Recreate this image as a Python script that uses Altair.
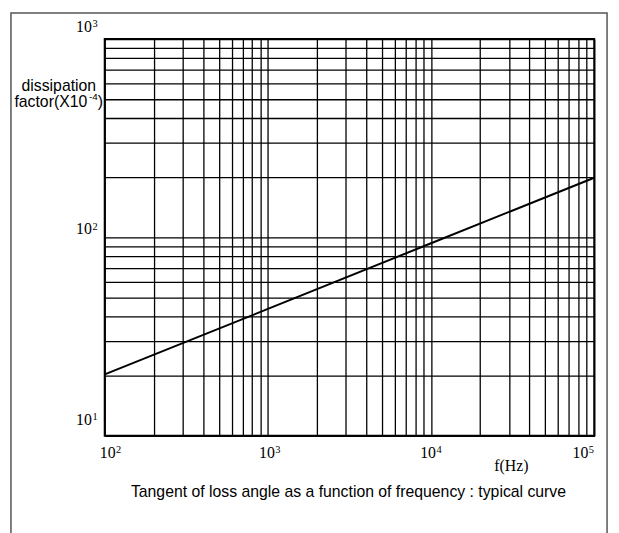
import altair as alt
import pandas as pd

# ---- data ----
freq = [100, 1000, 10000, 100000]            # f (Hz)
dissipation = [20.4, 43.6, 93.5, 200]         # dissipation factor (x10^-4)

x_grid = [100, 200, 300, 400, 500, 600, 700, 800, 900,
          1000, 2000, 3000, 4000, 5000, 6000, 7000, 8000, 9000,
          10000, 20000, 30000, 40000, 50000, 60000, 70000, 80000, 90000,
          100000]
y_grid = [10, 20, 30, 40, 50, 60, 70, 80, 90,
          100, 200, 300, 400, 500, 600, 700, 800, 900, 1000]

x_decades = [100, 1000, 10000, 100000]
x_exponents = ["2", "3", "4", "5"]
y_decades = [10, 100, 1000]
y_exponents = ["1", "2", "3"]

y_title_lines = ["dissipation", "factor(X10", "-4", ")"]
x_title = "f(Hz)"
caption = "Tangent of loss angle as a function of frequency : typical curve"

# ---- styling ----
SERIF = "Liberation Serif"
SANS = "Liberation Sans"
W, H = 496, 402
x_label_dx = [3, -1, -3, -14]
y_label_dy = [-11, -3, -7]

xscale = alt.Scale(type="log", domain=[100, 100000], nice=False)
yscale = alt.Scale(type="log", domain=[10, 1000], nice=False)
common_axis = dict(grid=True, labels=False, ticks=False, domain=False, title=None,
                   gridColor="#000000", gridWidth=1.3, gridOpacity=1)
X = alt.X("f:Q", scale=xscale, axis=alt.Axis(values=x_grid, **common_axis))
Y = alt.Y("d:Q", scale=yscale, axis=alt.Axis(values=y_grid, **common_axis))

line_df = pd.DataFrame({"f": freq, "d": dissipation})
line = alt.Chart(line_df).mark_line(color="#000000", strokeWidth=2).encode(x=X, y=Y)

frame = alt.Chart(pd.DataFrame({"a": [0]})).mark_rect(
    filled=False, stroke="#555555", strokeWidth=1.5
).encode(x=alt.value(-95), x2=alt.value(509), y=alt.value(-26.5), y2=alt.value(620))

layers = [frame, line]

# x tick labels 10^n
for v, e, off in zip(x_decades, x_exponents, x_label_dx):
    df = pd.DataFrame({"f": [v], "base": ["10"], "exp": [e]})
    layers.append(alt.Chart(df).mark_text(
        font=SERIF, fontSize=16, align="center", baseline="alphabetic",
        dx=off, color="#000000"
    ).encode(x=X, y=alt.value(H + 22), text="base:N"))
    layers.append(alt.Chart(df).mark_text(
        font=SERIF, fontSize=10.5, align="left", baseline="alphabetic",
        dx=off + 8.5, color="#000000"
    ).encode(x=X, y=alt.value(H + 17), text="exp:N"))

# y tick labels 10^n
for v, e, off in zip(y_decades, y_exponents, y_label_dy):
    df = pd.DataFrame({"d": [v], "base": ["10"], "exp": [e]})
    layers.append(alt.Chart(df).mark_text(
        font=SERIF, fontSize=16, align="right", baseline="alphabetic",
        dy=off, color="#000000"
    ).encode(y=Y, x=alt.value(-13), text="base:N"))
    layers.append(alt.Chart(df).mark_text(
        font=SERIF, fontSize=10.5, align="left", baseline="alphabetic",
        dy=off - 5, color="#000000"
    ).encode(y=Y, x=alt.value(-12.5), text="exp:N"))

# y title (two lines, with superscript -4)
ann = pd.DataFrame({"a": [0]})
layers.append(alt.Chart(ann).mark_text(font=SANS, fontSize=16, align="center",
                                       baseline="alphabetic", color="#000000")
              .encode(x=alt.value(-46.5), y=alt.value(52.5), text=alt.value(y_title_lines[0])))
layers.append(alt.Chart(ann).mark_text(font=SANS, fontSize=16, align="left",
                                       baseline="alphabetic", color="#000000")
              .encode(x=alt.value(-91.5), y=alt.value(68.5), text=alt.value(y_title_lines[1])))
layers.append(alt.Chart(ann).mark_text(font=SANS, fontSize=10, align="left",
                                       baseline="alphabetic", color="#000000")
              .encode(x=alt.value(-16), y=alt.value(62), text=alt.value(y_title_lines[2])))
layers.append(alt.Chart(ann).mark_text(font=SANS, fontSize=16, align="left",
                                       baseline="alphabetic", color="#000000")
              .encode(x=alt.value(-7), y=alt.value(68.5), text=alt.value(y_title_lines[3])))

# x title
layers.append(alt.Chart(ann).mark_text(font=SERIF, fontSize=16, align="center",
                                       baseline="alphabetic", color="#000000")
              .encode(x=alt.value(412), y=alt.value(438), text=alt.value(x_title)))
# caption
layers.append(alt.Chart(ann).mark_text(font=SANS, fontSize=16, align="center",
                                       baseline="alphabetic", color="#000000")
              .encode(x=alt.value(247), y=alt.value(463.5), text=alt.value(caption)))

chart = alt.layer(*layers).properties(
    width=W, height=H,
    autosize=alt.AutoSizeParams(type="none"),
    padding={"left": 98, "top": 28, "right": 17, "bottom": 95},
    background="white",
).configure_view(stroke="#000000", strokeWidth=2)

chart.save("out.html", embed_options={"renderer": "svg", "actions": False})
